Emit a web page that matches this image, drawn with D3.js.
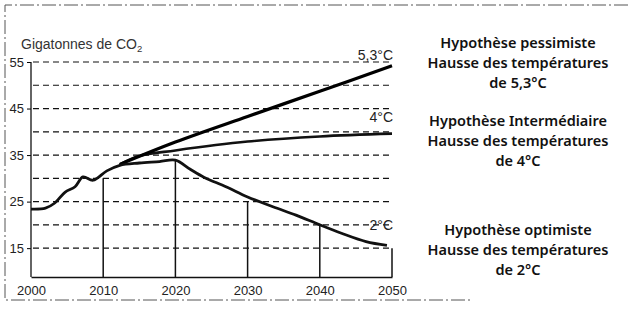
<!DOCTYPE html>
<html>
<head>
<meta charset="utf-8">
<script src="https://cdn.jsdelivr.net/npm/d3@7"></script>
<style>
  body { margin: 0; background: #fff; }
  svg { display: block; font-family: "Noto Sans", "Open Sans", sans-serif; }
</style>
</head>
<body>
<svg width="628" height="309"></svg>
<script>
// historical + optimistic (2°C) path
const optimiste = [
  [2000, 23.4], [2002, 23.6], [2003.3, 24.7], [2004.7, 27.0], [2006.1, 28.2],
  [2007.2, 30.3], [2008.6, 29.6], [2010.5, 31.6], [2012.3, 32.8], [2015, 33.3],
  [2017.8, 33.6], [2020, 33.9], [2022, 32.0], [2024, 30.2], [2027, 28.2],
  [2030, 26.0], [2033.5, 23.9], [2036.7, 22.1], [2040, 20.0], [2043, 18.2],
  [2046.4, 16.4], [2049.3, 15.6]
];
const pessimiste = [[2012.3, 33.0], [2020, 37.8], [2030, 43.3], [2040, 48.7], [2050, 54.2]];
const intermediaire = [[2012.3, 33.0], [2015, 34.8], [2020, 36.0], [2030, 37.9], [2040, 39.0], [2050, 39.6]];

const dropYears = [2010, 2020, 2030, 2040, 2050];
const dropValues = [30, 34, 25, 20, 15];
const gridValues = [55, 50, 45, 40, 35, 30, 25, 20, 15];
const yTicks = [55, 45, 35, 25, 15];
const xTicks = [2000, 2010, 2020, 2030, 2040, 2050];

const scenarioLabels = ["5,3°C", "4°C", "2°C"];
const scenarioAt = [55.4, 42.0, 19.0];
const hypotheses = [
  ["Hypothèse pessimiste", "Hausse des températures", "de 5,3°C"],
  ["Hypothèse Intermédiaire", "Hausse des températures", "de 4°C"],
  ["Hypothèse optimiste", "Hausse des températures", "de 2°C"]
];

const svg = d3.select("svg");
const x = d3.scaleLinear().domain([2000, 2050]).range([31, 392]);
const y = d3.scaleLinear().domain([8.8, 55]).range([277, 62]);

// scanned frame
svg.append("path")
  .attr("d", "M628,5H5V300H470")
  .attr("fill", "none").attr("stroke", "#555").attr("stroke-width", 1)
  .attr("stroke-dasharray", "14 3 2 3");

// dashed grid
svg.append("g").selectAll("line").data(gridValues).join("line")
  .attr("x1", x(2000) + 2).attr("x2", x(2050) - 2)
  .attr("y1", d => y(d)).attr("y2", d => y(d))
  .attr("stroke", "#111").attr("stroke-width", 1.2)
  .attr("stroke-dasharray", "6 4");

// y axis
const yAxis = svg.append("g")
  .attr("transform", `translate(${x(2000)},0)`)
  .call(d3.axisLeft(y).tickValues(yTicks).tickSize(4).tickSizeOuter(0));
yAxis.select(".domain").remove();
yAxis.selectAll("text").attr("font-size", 13).attr("fill", "#222")
  .attr("font-family", "Liberation Sans, sans-serif");
yAxis.append("line").attr("y1", y(55)).attr("y2", y(8.8)).attr("stroke", "#111").attr("stroke-width", 1.3);

// x axis
const xAxis = svg.append("g")
  .attr("transform", `translate(0,${y(8.8)})`)
  .call(d3.axisBottom(x).tickValues(xTicks).tickFormat(d3.format("d")).tickSize(0));
xAxis.select(".domain").attr("stroke", "#111").attr("stroke-width", 1.3);
xAxis.selectAll("text").attr("font-size", 13).attr("fill", "#222").attr("dy", "1.15em")
  .attr("font-family", "Liberation Sans, sans-serif");

svg.append("text")
  .attr("x", 21).attr("y", 49)
  .attr("font-size", 14).attr("fill", "#333")
  .attr("font-family", "Liberation Sans, sans-serif")
  .text("Gigatonnes de CO")
  .append("tspan").attr("font-size", 9.5).attr("dy", 3).text("2");

// drop lines
svg.append("g").selectAll("line").data(dropYears).join("line")
  .attr("x1", d => x(d)).attr("x2", d => x(d))
  .attr("y1", (d, i) => y(dropValues[i])).attr("y2", y(8.8))
  .attr("stroke", "#111").attr("stroke-width", 1.5);

const line = d3.line().x(d => x(d[0])).y(d => y(d[1])).curve(d3.curveCatmullRom);

svg.append("path").datum(intermediaire).attr("d", line)
  .attr("fill", "none").attr("stroke", "#111").attr("stroke-width", 2.6);
svg.append("path").datum(pessimiste).attr("d", line)
  .attr("fill", "none").attr("stroke", "#000").attr("stroke-width", 3.2);
svg.append("path").datum(optimiste).attr("d", line)
  .attr("fill", "none").attr("stroke", "#111").attr("stroke-width", 2.8);

// scenario tags
svg.append("g").selectAll("text").data(scenarioLabels).join("text")
  .attr("x", x(2050) + 1).attr("y", (d, i) => y(scenarioAt[i]))
  .attr("text-anchor", "end").attr("font-size", 14).attr("fill", "#222")
  .attr("font-family", "Liberation Sans, sans-serif")
  .text(d => d);

// hypothesis captions
const tops = [48, 126, 235];
const cap = svg.append("g").attr("font-size", 14.5).attr("font-weight", 600).attr("fill", "#111")
  .attr("text-anchor", "middle");
hypotheses.forEach((lines, i) => {
  cap.append("text").attr("x", 518).attr("y", tops[i])
    .selectAll("tspan").data(lines).join("tspan")
    .attr("x", 518).attr("dy", (d, j) => j ? 20 : 0).text(d => d);
});
</script>
</body>
</html>
